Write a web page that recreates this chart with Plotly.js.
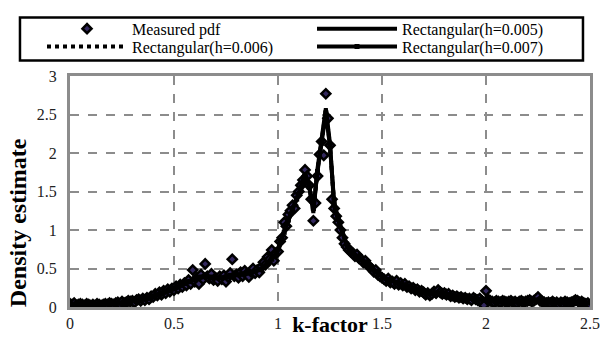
<!DOCTYPE html>
<html>
<head>
<meta charset="utf-8">
<script src="https://cdn.plot.ly/plotly-3.0.1.min.js"></script>
<style>
  html, body { margin: 0; padding: 0; background: #fff; }
  #chart { width: 602px; height: 337px; }
</style>
</head>
<body>
<div id="chart"></div>
<script>
// Measured pdf, sampled every 0.01 from k = 0 to k = 2.5
const measuredStart = 0.0;
const measuredStep = 0.01;
const measuredPdf = [
  0.04,0.03,0.05,0.02,0.03,0.04,0.03,0.02,0.04,0.03,
  0.02,0.03,0.02,0.04,0.03,0.02,0.03,0.04,0.03,0.05,
  0.04,0.03,0.05,0.06,0.04,0.07,0.05,0.06,0.08,0.07,
  0.08,0.06,0.09,0.10,0.08,0.11,0.09,0.12,0.10,0.14,
  0.13,0.17,0.15,0.19,0.16,0.21,0.18,0.23,0.20,0.24,
  0.22,0.27,0.24,0.29,0.26,0.31,0.28,0.35,0.30,0.48,
  0.33,0.38,0.30,0.42,0.36,0.56,0.40,0.37,0.43,0.35,
  0.38,0.34,0.40,0.36,0.41,0.33,0.39,0.44,0.62,0.40,
  0.42,0.38,0.45,0.40,0.47,0.43,0.39,0.46,0.50,0.44,
  0.48,0.45,0.52,0.58,0.55,0.65,0.62,0.74,0.60,0.70,
  0.72,0.85,0.90,1.10,1.05,1.20,1.25,1.32,1.28,1.45,
  1.50,1.58,1.65,1.78,1.70,1.58,1.40,1.12,1.35,1.70,
  1.98,2.15,1.97,2.77,2.45,2.10,1.40,1.28,1.18,1.10,
  1.00,0.90,0.82,0.78,0.74,0.72,0.70,0.66,0.68,0.63,
  0.62,0.58,0.60,0.55,0.52,0.50,0.46,0.48,0.42,0.40,
  0.38,0.36,0.34,0.37,0.32,0.33,0.30,0.34,0.29,0.31,
  0.28,0.30,0.26,0.27,0.24,0.25,0.22,0.23,0.20,0.21,
  0.19,0.16,0.18,0.15,0.17,0.20,0.18,0.22,0.19,0.17,
  0.18,0.16,0.17,0.14,0.15,0.13,0.14,0.12,0.13,0.11,
  0.12,0.10,0.11,0.09,0.12,0.10,0.09,0.11,0.08,0.02,
  0.21,0.10,0.08,0.07,0.06,0.08,0.07,0.06,0.08,0.07,
  0.06,0.07,0.08,0.06,0.07,0.05,0.07,0.08,0.06,0.07,
  0.08,0.09,0.07,0.08,0.10,0.13,0.08,0.07,0.06,0.05,
  0.06,0.05,0.07,0.05,0.06,0.04,0.06,0.05,0.07,0.06,
  0.05,0.06,0.07,0.09,0.08,0.06,0.07,0.05,0.04,0.05,
  0.03
];

// Rectangular-kernel estimates, sampled every 0.02 from k = 0.01 to k = 2.49
const kernelStart = 0.01;
const kernelStep = 0.02;
const rectH005 = [
  0.04,0.03,0.03,0.03,0.03,0.03,0.03,0.03,0.04,0.04,
  0.04,0.05,0.05,0.06,0.07,0.08,0.09,0.10,0.10,0.12,
  0.15,0.17,0.18,0.21,0.23,0.26,0.28,0.30,0.32,0.36,
  0.36,0.38,0.42,0.39,0.38,0.37,0.38,0.38,0.40,0.44,
  0.41,0.42,0.43,0.44,0.46,0.48,0.50,0.58,0.64,0.66,
  0.80,1.00,1.15,1.28,1.42,1.55,1.74,1.58,1.22,1.80,
  2.20,2.58,2.12,1.30,1.12,0.95,0.80,0.72,0.68,0.64,
  0.59,0.56,0.51,0.47,0.42,0.38,0.35,0.34,0.32,0.31,
  0.28,0.27,0.25,0.23,0.21,0.19,0.17,0.18,0.19,0.18,
  0.17,0.15,0.14,0.13,0.13,0.11,0.11,0.10,0.10,0.09,
  0.11,0.08,0.07,0.07,0.07,0.07,0.07,0.06,0.07,0.07,
  0.08,0.08,0.10,0.08,0.07,0.06,0.06,0.06,0.05,0.06,
  0.06,0.07,0.07,0.06,0.05
];
const rectH006 = [
  0.04,0.03,0.03,0.03,0.03,0.03,0.03,0.03,0.04,0.04,
  0.04,0.05,0.05,0.06,0.07,0.08,0.09,0.09,0.11,0.12,
  0.14,0.17,0.19,0.21,0.23,0.25,0.28,0.30,0.33,0.35,
  0.36,0.39,0.41,0.39,0.38,0.38,0.38,0.39,0.40,0.43,
  0.42,0.42,0.43,0.45,0.46,0.48,0.51,0.57,0.63,0.67,
  0.82,0.98,1.14,1.27,1.41,1.56,1.72,1.57,1.25,1.78,
  2.18,2.55,2.10,1.33,1.13,0.96,0.81,0.73,0.68,0.63,
  0.60,0.55,0.51,0.46,0.42,0.38,0.36,0.34,0.32,0.30,
  0.29,0.27,0.25,0.23,0.21,0.19,0.18,0.18,0.18,0.18,
  0.16,0.15,0.14,0.13,0.12,0.12,0.11,0.10,0.10,0.10,
  0.10,0.08,0.07,0.07,0.07,0.07,0.07,0.07,0.07,0.07,
  0.08,0.08,0.09,0.08,0.07,0.06,0.06,0.06,0.06,0.06,
  0.06,0.07,0.07,0.06,0.05
];
const rectH007 = [
  0.04,0.03,0.03,0.03,0.03,0.03,0.03,0.04,0.04,0.04,
  0.04,0.05,0.05,0.06,0.07,0.08,0.08,0.10,0.11,0.12,
  0.14,0.16,0.19,0.21,0.23,0.25,0.28,0.31,0.33,0.35,
  0.37,0.39,0.40,0.39,0.38,0.38,0.38,0.39,0.41,0.42,
  0.42,0.43,0.44,0.45,0.46,0.49,0.52,0.57,0.62,0.69,
  0.84,0.97,1.13,1.27,1.40,1.55,1.70,1.56,1.28,1.76,
  2.15,2.52,2.08,1.36,1.14,0.97,0.82,0.73,0.67,0.63,
  0.59,0.55,0.50,0.46,0.42,0.38,0.36,0.34,0.32,0.30,
  0.29,0.27,0.25,0.23,0.21,0.20,0.18,0.18,0.18,0.17,
  0.16,0.15,0.14,0.13,0.12,0.12,0.11,0.10,0.10,0.10,
  0.10,0.08,0.08,0.07,0.07,0.07,0.07,0.07,0.07,0.07,
  0.08,0.08,0.09,0.08,0.07,0.07,0.06,0.06,0.06,0.06,
  0.06,0.06,0.07,0.06,0.05
];

// Axis ticks
const xTickVals = [0, 0.5, 1, 1.5, 2, 2.5];
const xTickText = ['0', '0.5', '1', '1.5', '2', '2.5'];
const yTickVals = [0, 0.5, 1, 1.5, 2, 2.5, 3];
const yTickText = ['0', '0.5', '1', '1.5', '2', '2.5', '3'];

// Abscissae of a uniformly sampled series
function grid(start, step, n) {
  const out = [];
  for (let i = 0; i < n; i++) out.push(+(start + i * step).toFixed(4));
  return out;
}

const kMeasured = grid(measuredStart, measuredStep, measuredPdf.length);
const kKernel = grid(kernelStart, kernelStep, rectH005.length);

const SERIF = 'Times New Roman';

// Measured points first, kernel curves drawn over them.
// Each series gets its own legend so the 2 x 2 key can be laid out exactly.
const traces = [
  {
    x: kMeasured, y: measuredPdf, type: 'scatter', mode: 'markers',
    name: 'Measured pdf', legend: 'legend',
    marker: { symbol: 'diamond', size: 7, color: '#33285e',
              line: { color: '#000', width: 2.5 } }
  },
  {
    x: kKernel, y: rectH005, type: 'scatter', mode: 'lines',
    name: 'Rectangular(h=0.005)', legend: 'legend2',
    line: { color: '#000', width: 4 }
  },
  {
    x: kKernel, y: rectH006, type: 'scatter', mode: 'lines',
    name: 'Rectangular(h=0.006)', legend: 'legend3',
    line: { color: '#000', width: 4, dash: 'dot' }
  },
  {
    x: kKernel, y: rectH007, type: 'scatter', mode: 'lines+markers',
    name: 'Rectangular(h=0.007)', legend: 'legend4',
    line: { color: '#000', width: 4 },
    marker: { symbol: 'square', size: 5, color: '#000' }
  }
];

function axisStyle() {
  return {
    showline: true, mirror: true, linecolor: '#8c8c8c', linewidth: 3,
    showgrid: true, gridcolor: '#8c8c8c', gridwidth: 2, griddash: 'dash',
    zeroline: false, ticks: '', fixedrange: true,
    tickfont: { family: SERIF, size: 16, color: '#222' }
  };
}

// A single-entry legend placed at a given column / row
function legendCell(xPos, yPos) {
  return {
    orientation: 'h', x: xPos, xanchor: 'left', y: yPos, yanchor: 'middle',
    bgcolor: 'rgba(0,0,0,0)', borderwidth: 0,
    font: { family: SERIF, size: 16, color: '#000' },
    itemwidth: 80
  };
}
const colLeft = -0.0538, colRight = 0.4654;
const rowTop = 1.2045, rowBottom = 1.127;

const layout = {
  width: 602, height: 337,
  margin: { l: 70, r: 12, t: 70, b: 30 },
  paper_bgcolor: '#fff', plot_bgcolor: '#fff',
  showlegend: true,
  legend: legendCell(colLeft, rowTop),
  legend2: legendCell(colRight, rowTop),
  legend3: legendCell(colLeft, rowBottom),
  legend4: legendCell(colRight, rowBottom),
  // frame around the key
  shapes: [{
    type: 'rect', xref: 'paper', yref: 'paper',
    x0: -0.0962, x1: 0.9865, y0: 1.0675, y1: 1.2532,
    line: { color: '#000', width: 2.5 }, fillcolor: '#fff', layer: 'below'
  }],
  annotations: [{
    text: '<b>Density estimate</b>', xref: 'paper', yref: 'paper',
    x: -0.1, y: 0.363, xanchor: 'center', yanchor: 'middle',
    textangle: -90, showarrow: false,
    font: { family: SERIF, size: 24, color: '#000' }
  }],
  xaxis: Object.assign(axisStyle(), {
    range: [0, 2.5], tickvals: xTickVals, ticktext: xTickText,
    title: { text: '<b>k-factor</b>', font: { family: SERIF, size: 22, color: '#000' }, standoff: 0 }
  }),
  yaxis: Object.assign(axisStyle(), {
    range: [0, 3], tickvals: yTickVals, ticktext: yTickText, ticklabelstandoff: 7
  })
};

Plotly.newPlot('chart', traces, layout, { displayModeBar: false, staticPlot: true });
</script>
</body>
</html>
